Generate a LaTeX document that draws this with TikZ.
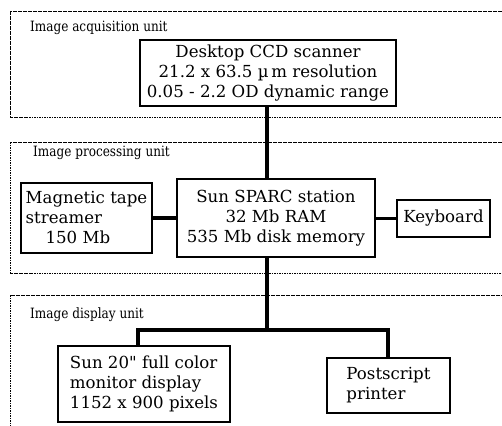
\documentclass[tikz,border=0pt]{standalone}
\usepackage{fontspec}
\setmainfont{DejaVu Serif}
\newfontfamily\unitfont[FakeStretch=0.85]{DejaVu Serif}
\begin{document}
\begin{tikzpicture}[x=1pt,y=-1pt,
  unitframe/.style={draw, line width=0.6pt, dash pattern=on 1.6pt off 0.9pt},
  unitlabel/.style={anchor=west, inner sep=0pt, font=\unitfont\fontsize{14.2}{16}\selectfont},
  device/.style={draw, line width=1.6pt, inner sep=0pt, font=\fontsize{16.6}{20}\selectfont},
  link/.style={line width=3.4pt}]
\useasboundingbox (0,0) rectangle (502,425);
\clip (0,0) rectangle (502,425);
\fill[white] (0,0) rectangle (502,425);

% the three unit frames
\draw[unitframe] (10,11) rectangle (520,117);
\draw[unitframe] (10,142) rectangle (520,273);
\draw[unitframe] (10,295) rectangle (520,440);

\node[unitlabel] (acqlabel) at (30,28) {Image acquisition unit};
\node[unitlabel] (proclabel) at (33,153) {Image processing unit};
\node[unitlabel] (displabel) at (30,315) {Image display unit};

% devices
\node[device, minimum width=256pt, minimum height=66pt, align=center] (scanner) at (268,73)
  {Desktop CCD scanner\\21.2 x 63.5 \textmu\,m resolution\\0.05 - 2.2 OD dynamic range};
\node[device, minimum width=131pt, minimum height=70pt, align=left] (tape) at (86.5,218)
  {Magnetic tape\\streamer\\\hspace{1.2em}150 Mb};
\node[device, minimum width=198pt, minimum height=78pt, align=center] (sparc) at (276,218)
  {Sun SPARC station\\32 Mb RAM\\535 Mb disk memory};
\node[device, minimum width=93pt, minimum height=37pt] (keyboard) at (443.5,218.5) {Keyboard};
\node[device, minimum width=172pt, minimum height=76pt, align=left] (monitor) at (144,384)
  {Sun 20\textquotedbl\ full color\\monitor display\\1152 x 900 pixels};
\node[device, minimum width=123pt, minimum height=55pt, align=left] (printer) at (388.5,385.5)
  {Postscript\\printer\hspace{2.6em}};

% connectors
\coordinate (branch) at (267,330);
\draw[link] (267,0 |- scanner.south) -- (267,0 |- sparc.north);
\draw[link] (tape.east) -- (tape.east -| sparc.west);
\draw[link] (sparc.east |- keyboard.west) -- (keyboard.west);
\draw[link] (267,0 |- sparc.south) -- (branch);
\draw[link, line join=miter] (138,0 |- monitor.north) -- (138,330) -- (388,330) -- (388,0 |- printer.north);
\end{tikzpicture}
\end{document}
